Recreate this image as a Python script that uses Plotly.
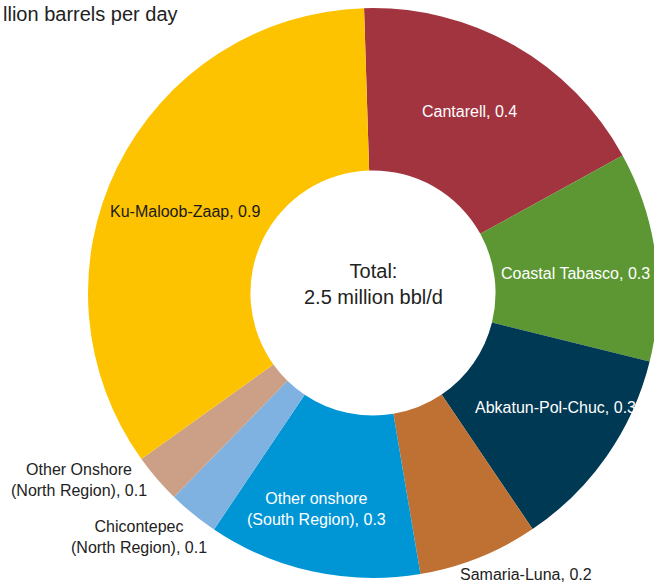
import plotly.graph_objects as go

# Data (million barrels per day)
fields = [
    "Cantarell",
    "Coastal Tabasco",
    "Abkatun-Pol-Chuc",
    "Samaria-Luna",
    "Other onshore<br>(South Region)",
    "Chicontepec<br>(North Region)",
    "Other Onshore<br>(North Region)",
    "Ku-Maloob-Zaap",
]
production = [0.437, 0.297, 0.292, 0.170, 0.302, 0.072, 0.070, 0.860]
total_label = "Total:<br>2.5 million bbl/d"
unit_label = "llion barrels per day"

colors = ["#A2343F", "#5C9733", "#003953", "#BE7132", "#0096D6", "#7FB2E0", "#CBA086", "#FDC300"]
label_colors = ["#FFFFFF", "#FFFFFF", "#FFFFFF", "#222222", "#FFFFFF", "#222222", "#222222", "#1A1A1A"]
# label placement in pixels: (x, y, x-anchor)
label_pos = [
    (469, 111, "center"),
    (499, 273, "left"),
    (473, 407, "left"),
    (526, 574, "center"),
    (316, 509, "center"),
    (139, 537, "center"),
    (79, 480, "center"),
    (185, 211, "center"),
]

FONT = "Arial, Liberation Sans, sans-serif"
W, H = 662, 585   # page window is 654 wide; the right 8 px are cropped like the reference
dom_x = [88 / W, 658 / W]
dom_y = [(H - 578) / H, (H - 8) / H]

fig = go.Figure(
    go.Pie(
        labels=fields,
        values=production,
        sort=False,
        direction="clockwise",
        rotation=-1.8,
        hole=0.43,
        marker=dict(colors=colors, line=dict(width=0)),
        textinfo="none",
        hoverinfo="label+value",
        showlegend=False,
        domain=dict(x=dom_x, y=dom_y),
    )
)

for name, val, col, (px, py, anc) in zip(fields, production, label_colors, label_pos):
    fig.add_annotation(
        x=px / W, y=1 - py / H, xref="paper", yref="paper",
        xanchor=anc, yanchor="middle", align="center",
        text=f"{name}, {val:.1f}", showarrow=False,
        font=dict(family=FONT, size=16, color=col),
    )

fig.add_annotation(
    x=(dom_x[0] + dom_x[1]) / 2, y=1 - 284 / H,
    xref="paper", yref="paper",
    text=total_label, showarrow=False,
    font=dict(family=FONT, size=20, color="#222222"),
)
fig.add_annotation(
    x=1 / W, y=1 - 14 / H, xref="paper", yref="paper",
    xanchor="left", yanchor="middle",
    text=unit_label, showarrow=False,
    font=dict(family=FONT, size=20, color="#222222"),
)

fig.update_layout(
    width=W, height=H,
    margin=dict(l=0, r=0, t=0, b=0),
    paper_bgcolor="white",
    plot_bgcolor="white",
)

fig.write_html(
    "out.html",
    config={"displayModeBar": False},
    post_script="document.body.style.margin='0';document.body.style.overflow='hidden';",
)
